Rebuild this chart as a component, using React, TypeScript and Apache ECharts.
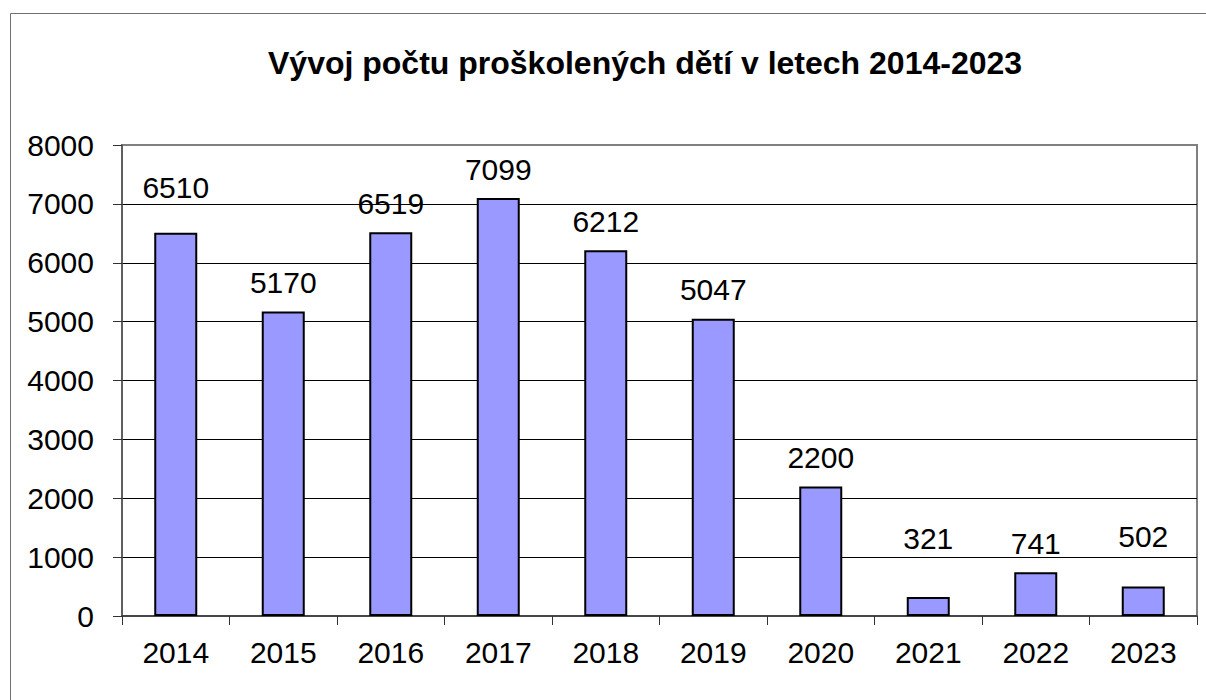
import React, { useEffect, useRef } from "react";
import * as echarts from "echarts";

const categories = ["2014", "2015", "2016", "2017", "2018", "2019", "2020", "2021", "2022", "2023"];
const values = [6510, 5170, 6519, 7099, 6212, 5047, 2200, 321, 741, 502];
const titleText = "Vývoj počtu proškolených dětí v letech 2014-2023";
// manual label nudges (px, upward) seen in the reference for some points
const labelNudge: Record<number, number> = { 0: 16, 7: 30, 8: 0, 9: 21 };

const FONT = "'Liberation Sans', Arial, Helvetica, sans-serif";

export default function App() {
  const ref = useRef<HTMLDivElement>(null);
  useEffect(() => {
    document.body.style.margin = "0";
    const chart = echarts.init(ref.current!, null, { renderer: "svg" });
    chart.setOption({
      animation: false,
      backgroundColor: "#ffffff",
      textStyle: { fontFamily: FONT },
      title: {
        text: titleText,
        left: 263,
        top: 42,
        textStyle: { fontFamily: FONT, fontSize: 32, fontWeight: "bold", color: "#000" },
      },
      graphic: [
        {
          type: "rect",
          shape: { x: 10.5, y: 13.5, width: 1400, height: 900 },
          style: { fill: "none", stroke: "#707070", lineWidth: 1 },
          silent: true,
          z: -1,
        },
      ],
      grid: {
        left: 122,
        top: 145,
        right: 9,
        bottom: 84,
        show: true,
        borderColor: "#808080",
        borderWidth: 2,
        backgroundColor: "#ffffff",
      },
      xAxis: {
        type: "category",
        data: categories,
        axisLine: { show: true, lineStyle: { color: "#333", width: 1.5 } },
        axisTick: { show: true, length: 9, alignWithLabel: false, lineStyle: { color: "#333", width: 1 } },
        axisLabel: { color: "#000", fontSize: 30, fontFamily: FONT, margin: 21 },
        splitLine: { show: false },
      },
      yAxis: {
        type: "value",
        min: 0,
        max: 8000,
        interval: 1000,
        axisLine: { show: true, lineStyle: { color: "#555", width: 1.5 } },
        axisTick: { show: true, length: 9, lineStyle: { color: "#333", width: 1 } },
        axisLabel: {
          color: "#000",
          fontSize: 30,
          fontFamily: FONT,
          margin: 28,
          formatter: (v: number) => String(v),
        },
        splitLine: { show: true, showMaxLine: false, showMinLine: false, lineStyle: { color: "#000", width: 1 } },
      },
      series: [
        {
          type: "bar",
          barWidth: "40%",
          data: values.map((v, i) => ({
            value: v,
            label: { offset: [0, -(labelNudge[i] || 0)] },
          })),
          itemStyle: { color: "#9999FF", borderColor: "#000", borderWidth: 2 },
          label: {
            show: true,
            position: "top",
            distance: 14,
            color: "#000",
            fontSize: 30,
            fontFamily: FONT,
          },
        },
      ],
    });
    return () => chart.dispose();
  }, []);
  return <div ref={ref} style={{ width: 1206, height: 700 }} />;
}
